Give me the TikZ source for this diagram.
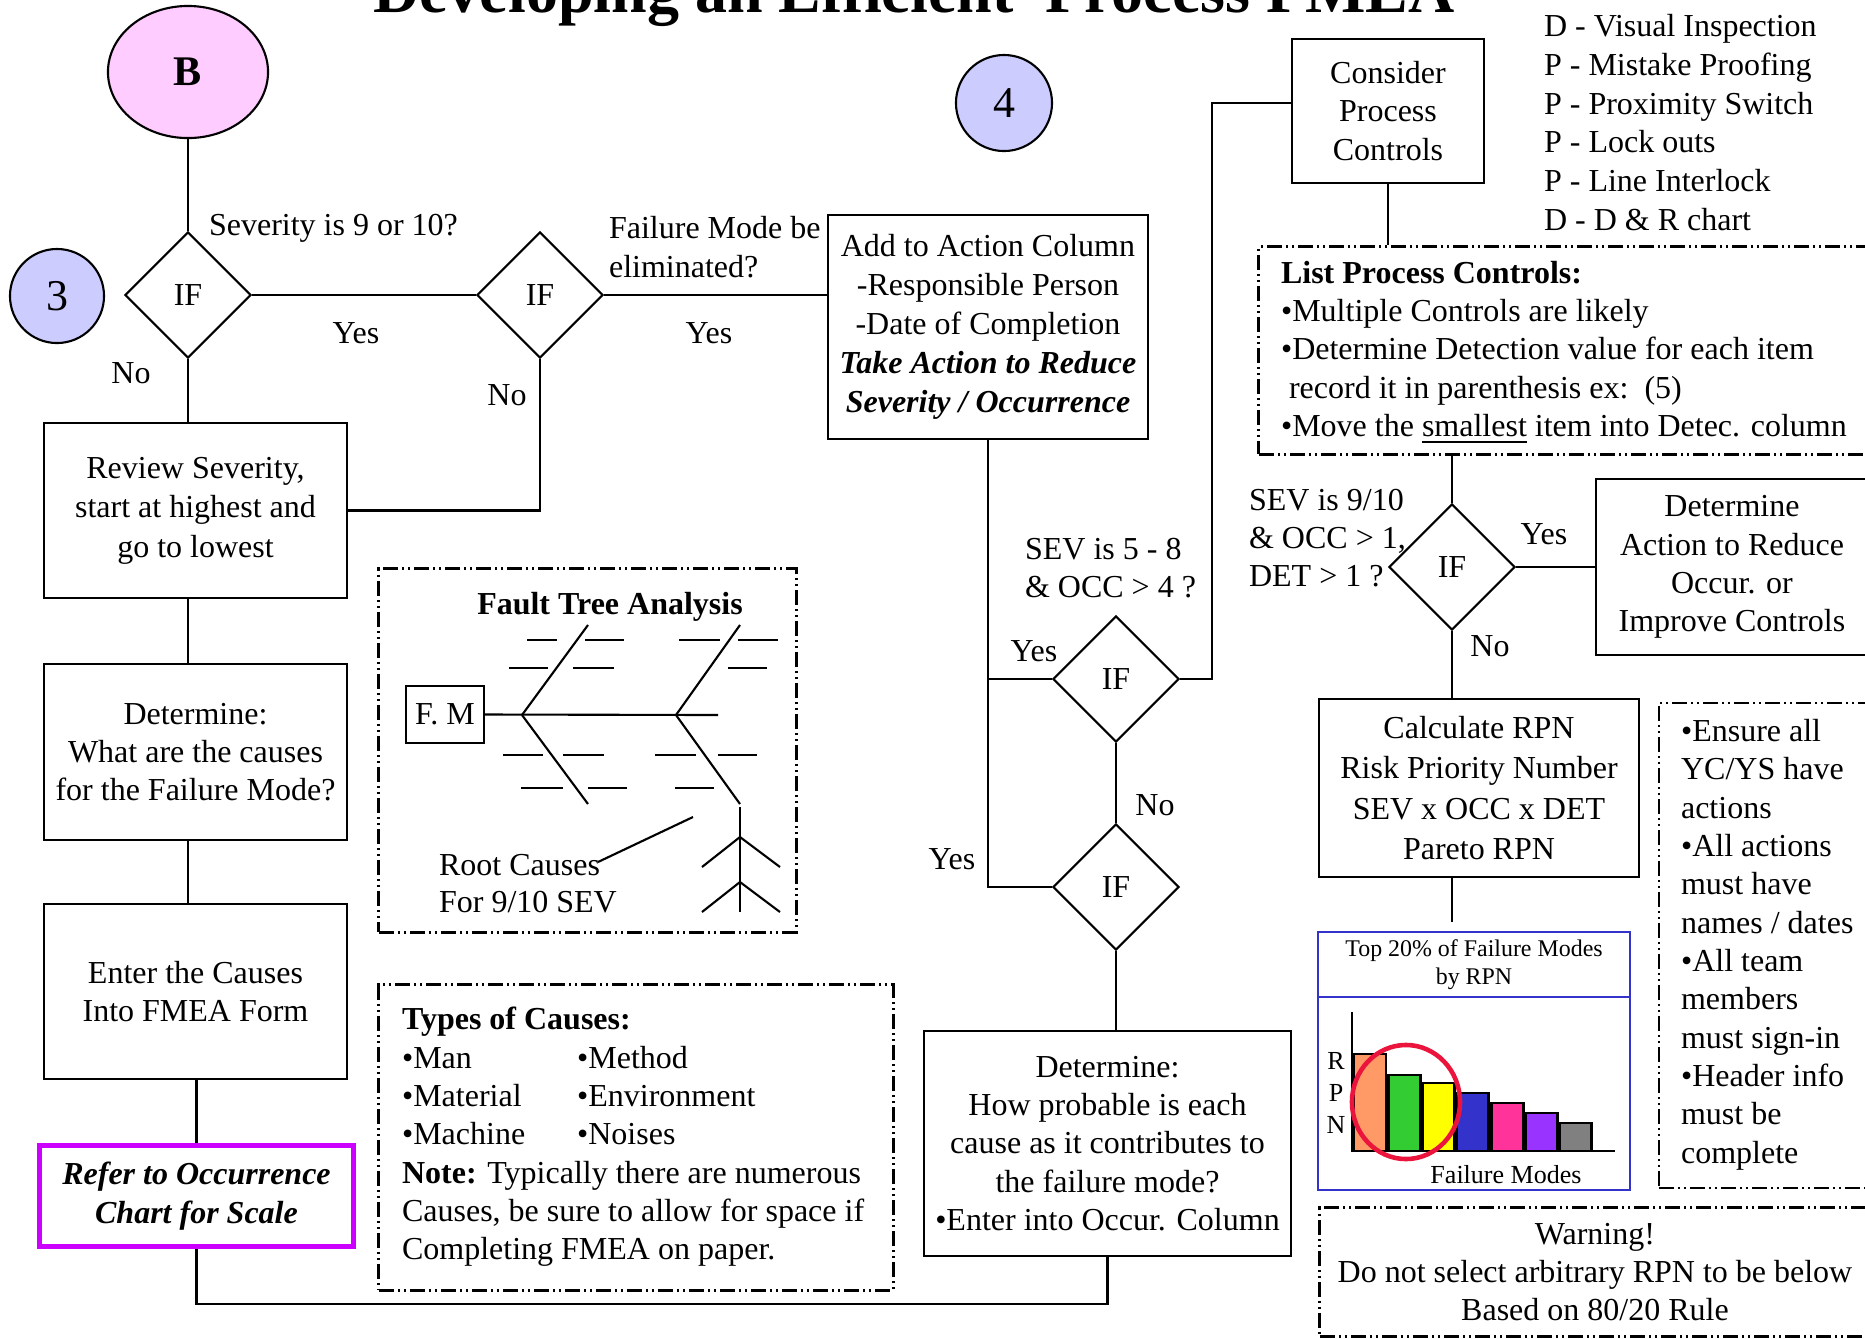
\documentclass[tikz,border=0pt]{standalone}
\usepackage{fontspec}
\setmainfont{Liberation Serif}
\usepackage{tikz}
\usetikzlibrary{shapes.geometric,calc}
\definecolor{bpink}{RGB}{255,204,255}
\definecolor{lav}{RGB}{204,204,255}
\definecolor{magbox}{RGB}{204,0,255}
\definecolor{chartblue}{RGB}{51,51,204}
\definecolor{barorange}{RGB}{255,153,102}
\definecolor{bargreen}{RGB}{51,204,51}
\definecolor{baryellow}{RGB}{255,255,0}
\definecolor{barblue}{RGB}{51,51,204}
\definecolor{barpink}{RGB}{255,51,153}
\definecolor{barpurple}{RGB}{153,51,255}
\definecolor{bargray}{RGB}{128,128,128}
\definecolor{ringred}{RGB}{235,20,60}
\newcommand{\bodyfont}{\fontsize{9.1}{10.9}\selectfont}
\newcommand{\chartfont}{\fontsize{6.8}{8}\selectfont}

\begin{document}
\begin{tikzpicture}[x=0.01cm,y=-0.01cm,semithick,font=\bodyfont,
    ifnode/.style={diamond,draw,minimum width=1.26cm,minimum height=1.26cm,inner sep=0pt},
    stepbox/.style={draw,align=center,inner sep=0pt},
    ddframe/.style={draw,line width=0.85pt,inner sep=0pt,dash pattern=on 0.15cm off 0.04cm on 0.02cm off 0.04cm on 0.02cm off 0.04cm},
    listtext/.style={anchor=west,align=left,inner sep=0pt},
    ans/.style={inner sep=0pt}]
        \useasboundingbox (0,0) rectangle (1865,1338);

        \node (title) [anchor=base,font=\fontsize{18.2}{20}\selectfont\bfseries] at (914,12) {Developing an Efficient\ \ Process FMEA};

        \node (B) [ellipse,draw,fill=bpink,minimum width=1.6cm,minimum height=1.32cm,font=\fontsize{12}{14}\selectfont\bfseries] at (188,72) {B};
        \node (c3) [circle,draw,fill=lav,minimum size=0.94cm,inner sep=0pt,font=\fontsize{12.5}{14}\selectfont] at (57,296) {3};
        \node (c4) [circle,draw,fill=lav,minimum size=0.96cm,inner sep=0pt,font=\fontsize{12.5}{14}\selectfont] at (1004,103) {4};

        \node (if1) [ifnode] at (188,295) {IF};
        \node (if2) [ifnode] at (540,295) {IF};
        \node (if3) [ifnode] at (1116,679) {IF};
        \node (if4) [ifnode] at (1116,887) {IF};
        \node (if5) [ifnode] at (1452,567) {IF};

        \node (add) [stepbox,minimum width=3.2cm,minimum height=2.24cm,font=\fontsize{9.1}{11.1}\selectfont] at (988,327) {Add to Action Column\\-Responsible Person\\-Date of Completion\\\textbf{\textit{Take Action to Reduce}}\\\textbf{\textit{Severity / Occurrence}}};
        \node (review) [stepbox,minimum width=3.03cm,minimum height=1.75cm,font=\fontsize{9.1}{11.2}\selectfont] at (195.5,510.5) {Review Severity,\\start at highest and\\go to lowest};
        \node (cause) [stepbox,minimum width=3.03cm,minimum height=1.76cm] at (195.5,752) {Determine:\\What are the causes\\for the Failure Mode?};
        \node (enter) [stepbox,minimum width=3.03cm,minimum height=1.75cm] at (195.5,991.5) {Enter the Causes\\Into FMEA Form};
        \node (refer) [stepbox,draw=magbox,line width=1.4pt,minimum width=3.14cm,minimum height=1.01cm,font=\bodyfont\bfseries\itshape] at (196.5,1196) {Refer to Occurrence\\Chart for Scale};
        \node (occur) [stepbox,minimum width=3.67cm,minimum height=2.25cm] at (1107.5,1143.5) {Determine:\\How probable is each\\cause as it contributes to\\the failure mode?\\•Enter into Occur. Column};
        \node (consider) [stepbox,minimum width=1.92cm,minimum height=1.44cm] at (1388,111) {Consider\\Process\\Controls};
        \node (calc) [stepbox,minimum width=3.2cm,minimum height=1.78cm,font=\fontsize{9.1}{11.5}\selectfont] at (1479,788) {Calculate RPN\\Risk Priority Number\\SEV x OCC x DET\\Pareto RPN};
        \node (detact) [stepbox,minimum width=2.72cm,minimum height=1.76cm] at (1732,567) {Determine\\Action to Reduce\\Occur. or\\Improve Controls};

        \node (fta) [ddframe,minimum width=4.17cm,minimum height=3.63cm] at (587.5,750.5) {};
        \node (types) [ddframe,minimum width=5.14cm,minimum height=3.05cm] at (636,1137.5) {};
        \node (list) [ddframe,minimum width=6.21cm,minimum height=2.07cm] at (1569.5,350.5) {};
        \node (ensure) [ddframe,line width=0.5pt,minimum width=2.21cm,minimum height=4.85cm] at (1769.5,945.5) {};
        \node (warn) [ddframe,align=center,minimum width=5.5cm,minimum height=1.28cm] at (1595,1272) {Warning!\\Do not select arbitrary RPN to be below\\Based on 80/20 Rule};

        \node (sev1) [listtext] at (208,228) {Severity is 9 or 10?};
        \node (elim) [listtext] at (608,247) {Failure Mode be\\eliminated?};
        \node (sev58) [listtext] at (1024,568) {SEV is 5 - 8\\\& OCC > 4 ?};
        \node (sev910) [listtext] at (1248,538) {SEV is 9/10\\\& OCC > 1,\\DET > 1 ?};
        \node (ctrls) [listtext,font=\fontsize{9.1}{11}\selectfont] at (1543,122.5) {D - Visual Inspection\\P - Mistake Proofing\\P - Proximity Switch\\P - Lock outs\\P - Line Interlock\\D - D \& R chart};
        \node (listtxt) [listtext] at (1280,352.5) {\textbf{List Process Controls:}\\•Multiple Controls are likely\\•Determine Detection value for each item\\\hspace*{0.08cm}record it in parenthesis ex:\ \ (5)\\•Move the \underline{smallest} item into Detec. column};
        \node (ensuretxt) [listtext] at (1680,944.5) {•Ensure all\\YC/YS have\\actions\\•All actions\\must have\\names / dates\\•All team\\members\\must sign-in\\•Header info\\must be\\complete};
        \node (typestxt) [listtext] at (401,1137) {\textbf{Types of Causes:}\\\makebox[1.75cm][l]{•Man}•Method\\\makebox[1.75cm][l]{•Material}•Environment\\\makebox[1.75cm][l]{•Machine}•Noises\\\textbf{Note:} Typically there are numerous\\Causes, be sure to allow for space if\\Completing FMEA on paper.};

        \node (yes1) [ans] at (356,333) {Yes};
        \node (no1) [ans] at (131,373) {No};
        \node (yes2) [ans] at (709,333) {Yes};
        \node (no2) [ans] at (507,395) {No};
        \node (yes3) [ans] at (1034,651) {Yes};
        \node (no3) [ans] at (1155,805) {No};
        \node (yes4) [ans] at (952,859) {Yes};
        \node (yes5) [ans] at (1544,534) {Yes};
        \node (no5) [ans] at (1490,646) {No};

        \coordinate (cin) at (1292,103);
        \coordinate (calcend) at (1452,922);

        \draw (B.south) -- (if1.north);
        \draw (if1.east) -- (if2.west);
        \draw (if2.east) -- (if2.east -| add.west);
        \draw (if1.south) -- (if1.south |- review.north);
        \draw (if2.south) |- (review.east);
        \draw (if1.south |- review.south) -- (if1.south |- cause.north);
        \draw (if1.south |- cause.south) -- (if1.south |- enter.north);
        \draw (refer.north |- enter.south) -- (refer.north);
        \draw (refer.south) -- ++(0,55) -| (occur.south);
        \draw (add.south) |- (if4.west);
        \draw (if3.west) -- (if3.west -| add.south);
        \draw (if3.south) -- (if4.north);
        \draw (if4.south) -- (if4.south |- occur.north);
        \draw (if3.east) -- ++(32,0) |- (cin);
        \draw (consider.south) -- (consider.south |- list.north);
        \draw (if5.north |- list.south) -- (if5.north);
        \draw (if5.east) -- (if5.east -| detact.west);
        \draw (if5.south) -- (if5.south |- calc.north);
        \draw (if5.south |- calc.south) -- (calcend);

        \node (ftatitle) [font=\bodyfont\bfseries] at (610,607) {Fault Tree Analysis};
        \node (fm) [draw,minimum width=0.78cm,minimum height=0.57cm,inner sep=0pt] at (445,714.5) {F. M};
        \draw (fm.east) -- (718,715);
        \draw (522,715) -- (588,625);
        \draw (522,715) -- (588,804);
        \draw (676,715) -- (740,625);
        \draw (676,715) -- (740,804);
        \foreach \xa/\xb/\yy in {527/557/640,585/624/640,509/548/668,573/614/668,679/720/640,738/778/640,728/767/668,503/543/755,563/604/755,521/563/788,588/627/788,655/696/755,718/757/755,675/714/788}
            \draw (\xa,\yy) -- (\xb,\yy);
        \draw (740,807) -- (740,912);
        \draw (702,867) -- (740,837) -- (780,867);
        \draw (702,912) -- (740,882) -- (780,912);
        \node (roottxt) [listtext,font=\fontsize{9.1}{10.5}\selectfont] at (438,883.5) {Root Causes\\For 9/10 SEV};
        \draw (598,862) -- (693,817);

        \node (chart) [draw=chartblue,minimum width=3.12cm,minimum height=2.58cm] at (1474,1061) {};
        \node (charthead) [draw=chartblue,anchor=north,align=center,minimum width=3.12cm,minimum height=0.65cm,inner sep=0pt,font=\chartfont] at (chart.north) {Top 20\%\ of Failure Modes\\by RPN};
        \foreach \c/\t [count=\i from 0] in {barorange/1054,bargreen/1075,baryellow/1083,barblue/1093,barpink/1103,barpurple/1113,bargray/1123}
            \draw[line width=0.8pt,fill=\c] ({1354+\i*34.3},1151) rectangle ({1386+\i*34.3},\t);
        \draw[line width=0.8pt] (1352,1012) -- (1352,1151) -- (1615,1151);
        \draw[ringred,line width=1.3pt] (1406,1102) ellipse [x radius=0.54cm,y radius=0.57cm];
        \node (rpn) [align=center,inner sep=0pt,font=\fontsize{7.4}{9.1}\selectfont] at (1336,1093) {R\\P\\N};
        \node (fmodes) [inner sep=0pt,font=\fontsize{7.4}{9}\selectfont] at (1506,1175) {Failure Modes};
\end{tikzpicture}
\end{document}
